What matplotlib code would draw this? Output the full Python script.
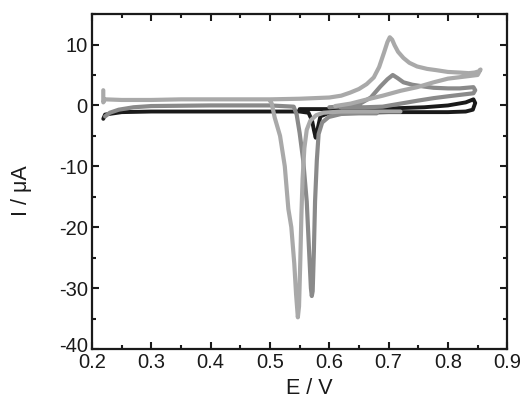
import numpy as np
import matplotlib.pyplot as plt
from matplotlib.ticker import MultipleLocator
from matplotlib.transforms import ScaledTranslation

nan = np.nan

# black trace
black_E = [0.219, 0.222, 0.25, 0.30, 0.35, 0.40, 0.45, 0.50, 0.55, 0.565, 0.571, 0.574, 0.577, 0.580,
           0.585, 0.60, 0.65, 0.70, 0.75, 0.80, 0.83, 0.842, 0.846, 0.843, 0.83, 0.80, 0.76, 0.70,
           0.65, 0.60, 0.55]
black_I = [-2.2, -1.5, -1.1, -1.0, -1.0, -1.0, -1.0, -1.0, -1.0, -1.2, -2.5, -4.0, -5.3, -4.0,
           -1.8, -1.2, -1.2, -1.1, -1.1, -1.1, -1.0, -0.7, 0.4, 1.0, 0.5, 0.0, -0.3, -0.5,
           -0.6, -0.6, -0.6]

# dark grey trace
dark_E = [0.222, 0.23, 0.245, 0.27, 0.30, 0.40, 0.50, 0.54, 0.545, 0.55, 0.556, 0.562, 0.566,
          0.569, 0.5705, 0.572, 0.574, 0.576, 0.579, 0.582, 0.588, 0.599, 0.62, 0.65, 0.68, nan,
          0.60, 0.63, 0.652, 0.67, 0.686, 0.698, 0.707, 0.715, 0.725, 0.74, 0.76, 0.776, 0.80,
          0.82, 0.843, 0.846, 0.843, 0.80, 0.776, 0.75, 0.72, 0.69, 0.66, 0.62]
dark_I = [-1.8, -1.2, -0.7, -0.3, -0.1, 0.0, 0.0, -0.2, -1.5, -4.5, -9.0, -15.8, -24.0,
          -30.0, -31.3, -30.5, -24.0, -15.8, -9.0, -4.7, -2.8, -1.9, -1.4, -1.3, -1.3, nan,
          -0.3, -0.1, 0.3, 1.3, 3.1, 4.3, 5.0, 4.5, 3.8, 3.4, 3.1, 2.9, 2.8,
          2.8, 3.0, 2.5, 2.0, 1.5, 1.2, 0.8, 0.3, -0.2, -0.3, -0.3]

# light grey trace
light_E = [0.219, 0.219, 0.222, 0.25, 0.30, 0.35, 0.40, 0.45, 0.50, 0.55, 0.60, 0.62, 0.635,
           0.65, 0.663, 0.675, 0.684, 0.692, 0.698, 0.702, 0.706, 0.71, 0.716, 0.725, 0.735,
           0.748, 0.765, 0.78, 0.80, 0.82, 0.835, 0.845, 0.852, 0.855, 0.85, 0.80, 0.776,
           0.748, 0.72, 0.69, 0.66, 0.636, 0.61, nan,
           0.50, 0.503, 0.508, 0.517, 0.525, 0.531, 0.536, 0.541, 0.544, 0.547, 0.549, 0.551,
           0.553, 0.555, 0.558, 0.562, 0.568, 0.578, 0.59, 0.62, 0.66, 0.70, 0.72]
light_I = [2.5, 0.5, 1.0, 0.9, 0.9, 1.0, 1.0, 1.0, 1.0, 1.1, 1.3, 1.6, 2.1,
           2.7, 3.5, 4.6, 6.3, 8.6, 10.4, 11.2, 10.8, 9.9, 8.8, 7.8, 7.0,
           6.4, 6.0, 5.8, 5.5, 5.4, 5.3, 5.4, 5.6, 5.9, 5.0, 4.4, 3.8,
           3.0, 2.4, 1.6, 0.9, 0.3, -0.1, nan,
           0.8, 0.3, -2.0, -5.0, -10.0, -17.0, -20.0, -26.0, -31.0, -34.8, -33.0, -26.0,
           -18.0, -12.0, -7.0, -4.0, -2.5, -1.6, -1.2, -1.0, -1.0, -1.0, -1.0]

x_ticks = [0.2, 0.3, 0.4, 0.5, 0.6, 0.7, 0.8, 0.9]
x_labels = ['0.2', '0.3', '0.4', '0.5', '0.6', '0.7', '0.8', '0.9']
y_ticks = [-40, -30, -20, -10, 0, 10]
y_labels = ['-40', '-30', '-20', '-10', '0', '10']

plt.rcParams['font.family'] = ['Liberation Sans', 'DejaVu Sans']

fig = plt.figure(figsize=(5.21, 4.03), dpi=100)
ax = fig.add_axes([0.1766, 0.134, 0.797, 0.831])

ax.plot(black_E, black_I, color='#1a1a1a', lw=2.8, solid_capstyle='round')
ax.plot(dark_E, dark_I, color='#8a8a8a', lw=3.0, solid_capstyle='round')
ax.plot(light_E, light_I, color='#a9a9a9', lw=3.0, solid_capstyle='round')

ax.set_xlim(0.2, 0.9)
ax.set_ylim(-40, 15)
ax.set_xticks(x_ticks)
ax.set_xticklabels(x_labels)
ax.set_yticks(y_ticks)
ax.set_yticklabels(y_labels)
ax.xaxis.set_minor_locator(MultipleLocator(0.05))
ax.yaxis.set_minor_locator(MultipleLocator(5))
ax.tick_params(which='both', direction='in', top=True, right=True, width=1.5,
               labelsize=14.5, pad=3, colors='#1a1a1a')
ax.tick_params(which='major', length=5)
ax.tick_params(which='minor', length=3)
for s in ax.spines.values():
    s.set_linewidth(1.6)
    s.set_color('#1a1a1a')

# lift the bottom y label a bit so it clears the 0.2 label
lbl = ax.get_yticklabels()[0]
lbl.set_transform(lbl.get_transform() + ScaledTranslation(0, 3 / 72, fig.dpi_scale_trans))

ax.set_xlabel('E / V', fontsize=15.5, labelpad=4, color='#1a1a1a')
ax.set_ylabel('I / \u03bcA', fontsize=15.5, labelpad=19, color='#1a1a1a')
ax.xaxis.label.set_x(0.523)
ax.yaxis.label.set_y(0.473)

fig.savefig('out.png', dpi=100)
